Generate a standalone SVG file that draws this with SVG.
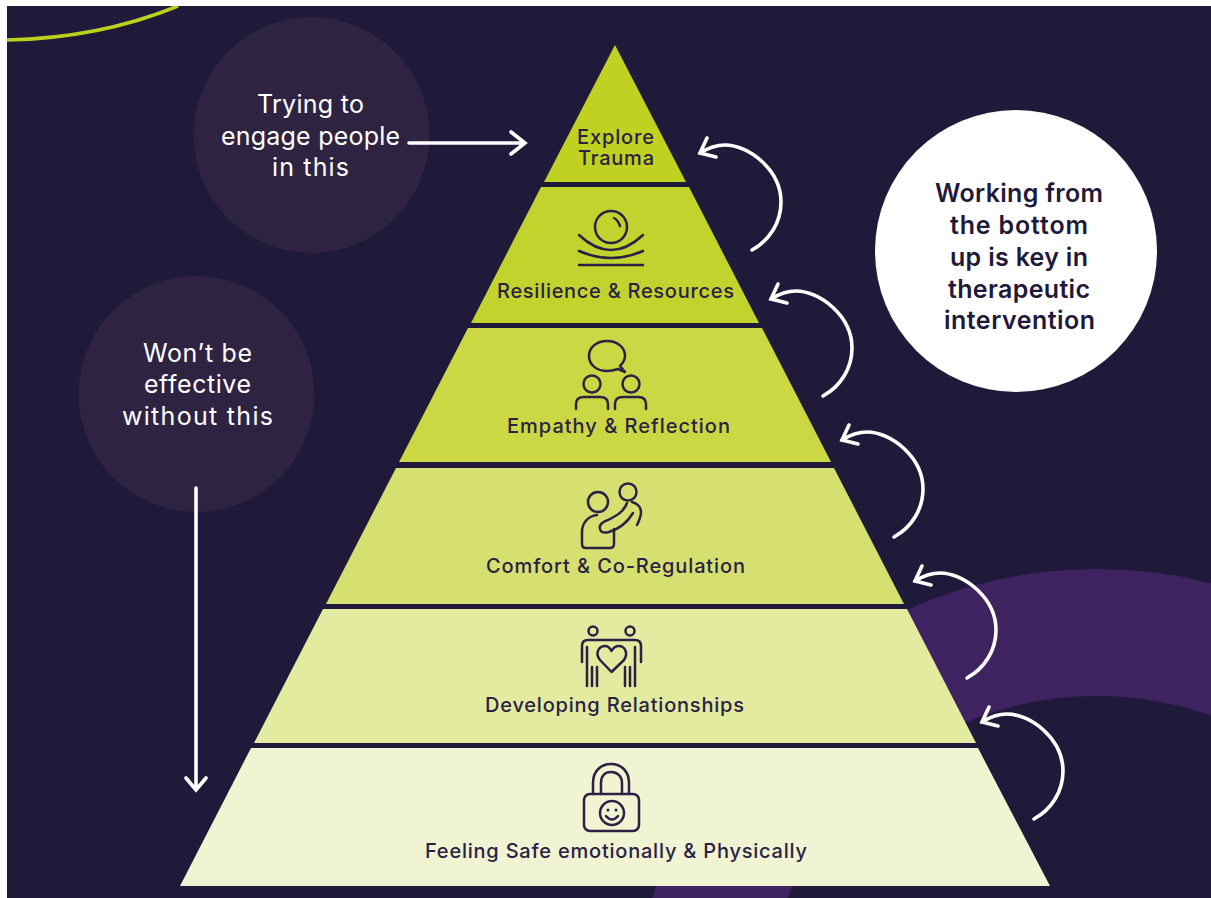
<svg xmlns="http://www.w3.org/2000/svg" xmlns:xlink="http://www.w3.org/1999/xlink" width="1211" height="898" viewBox="0 0 1211 898">
<style>
text{font-family:"Inter","Liberation Sans",sans-serif}
.lbl{font-size:20px;fill:#2a2145;font-weight:500;text-anchor:middle}
.cw{font-size:25px;fill:#fff;text-anchor:middle}
.cb{font-size:25px;fill:#1f1a3a;font-weight:600;text-anchor:middle}
.ic{fill:none;stroke:#2a2145;stroke-width:2.500;stroke-linecap:round;stroke-linejoin:round}
.ar{fill:none;stroke:#fff;stroke-width:3.600;stroke-linecap:round;stroke-linejoin:miter}
</style>
<defs>
<clipPath id="bg"><rect x="7" y="6" width="1204" height="892"/></clipPath>
<g id="curl" class="ar"><path d="M0 0C18 -10 29 -28 29 -48C29 -80 -3 -105 -27 -105C-36 -105 -44 -102 -52 -97"/><path d="M-45 -112L-52 -97L-36 -93"/></g>
</defs>
<rect width="1211" height="898" fill="#fff"/>
<g id="background" clip-path="url(#bg)">
<rect x="7" y="6" width="1204" height="892" fill="#1f1a3a"/>
<circle cx="1097" cy="1034" r="401.500" fill="none" stroke="#3f2260" stroke-width="127"/>
<path d="M7 40Q100 38 178 6" fill="none" stroke="#bdd01e" stroke-width="3.600"/>
<polygon points="615,45 1050,886 180,886" fill="#1f1a3a"/>
</g>
<g id="callout-top"><circle cx="311.500" cy="135" r="118" fill="#2f2342"/>
<text class="cw" x="310.500" y="113" textLength="107">Trying to</text><text class="cw" x="310.500" y="145" textLength="179">engage people</text><text class="cw" x="310.500" y="176" textLength="77">in this</text></g>
<g id="callout-left"><circle cx="196.500" cy="394" r="118" fill="#2f2342"/>
<text class="cw" x="197.500" y="362" textLength="109">Won’t be</text><text class="cw" x="197.500" y="393" textLength="107">effective</text><text class="cw" x="197.500" y="425" textLength="151">without this</text></g>
<g id="callout-right"><circle cx="1016" cy="251" r="141" fill="#fff"/>
<text class="cb" x="1019" y="202" textLength="168">Working from</text><text class="cb" x="1019" y="234" textLength="138">the bottom</text><text class="cb" x="1019" y="266" textLength="138">up is key in</text><text class="cb" x="1019" y="298" textLength="142">therapeutic</text><text class="cb" x="1019.500" y="329" textLength="151">intervention</text></g>
<g id="tier-explore"><polygon points="615,45 686,182 544,182" fill="#c0d122"/>
<text class="lbl" x="615.500" y="144" textLength="77">Explore</text><text class="lbl" x="616" y="165" textLength="76">Trauma</text></g>
<g id="tier-resilience"><polygon points="541,187 689,187 759,323 471,323" fill="#c2d32d"/>
<g class="ic"><circle cx="611" cy="227" r="16"/><path d="M614 218Q618 220 620 226M579 235Q611 265 643 235M579 251Q611 265 643 251M579 265H643"/></g>
<text class="lbl" x="615.500" y="298" textLength="237">Resilience &amp; Resources</text></g>
<g id="tier-empathy"><polygon points="468,328 762,328 831,462 399,462" fill="#cbd844"/>
<g class="ic"><path d="M625 372L620 366C624 362 625 359 625 356C625 347 617 341 607 341C597 341 589 347 589 356C589 365 597 371 607 371C611 371 615 370 618 369Z"/><circle cx="592" cy="384" r="8.500"/><circle cx="631" cy="384" r="8.500"/><path d="M576 409V404Q576 397 584 397H600Q608 397 608 404V409M615 409V404Q615 397 623 397H638Q646 397 646 404V409"/></g>
<text class="lbl" x="618.500" y="433" textLength="223">Empathy &amp; Reflection</text></g>
<g id="tier-comfort"><polygon points="396,468 834,468 904,604 326,604" fill="#d6e070"/>
<g class="ic"><circle cx="598" cy="502" r="10"/><circle cx="628" cy="492" r="8.500"/><path d="M597 515C588 516 582 523 582 532V544Q582 548 586 548H610Q614 548 614 544V529"/><path d="M627 503C624 511 618 515 608 520C602 522 599 525 600 529C601 533 605 533 609 532C619 529 627 523 633 513"/><path d="M632 502C637 503 641 507 641 512C641 516 639 521 637 525"/></g>
<text class="lbl" x="615.500" y="573" textLength="259">Comfort &amp; Co-Regulation</text></g>
<g id="tier-relationships"><polygon points="323,609 907,609 976,743 254,743" fill="#e3eba0"/>
<g class="ic"><circle cx="593" cy="631" r="4.500"/><circle cx="630" cy="631" r="4.500"/><path d="M582 662V646Q582 640 588 640H635Q641 640 641 646V662M587 647V686M592 667V686M597 667V686M635 647V686M630 667V686M625 667V686"/><path d="M611.500 672L600 660C594 652 600 646 605 646C608 646 610 648 611.500 651C613 648 615 646 619 646C624 646 629 652 624 660Z"/></g>
<text class="lbl" x="614.500" y="712" textLength="259">Developing Relationships</text></g>
<g id="tier-safe"><polygon points="251,748 978,748 1050,886 180,886" fill="#f0f4d2"/>
<g class="ic"><rect x="584" y="794" width="55" height="37" rx="6"/><path d="M593 794V783C593 771 601 764 611 764C621 764 629 771 629 783V794M601 794V783C601 776 605 772 611 772C617 772 622 776 622 783V794"/><circle cx="612" cy="813" r="12"/><path d="M606 816Q612 823 618 816"/><path d="M608 810h.01M616 810h.01" stroke-width="3"/></g>
<text class="lbl" x="616" y="858" textLength="382">Feeling Safe emotionally &amp; Physically</text></g>
<g id="connectors">
<path class="ar" d="M409 143H525M511 132L525 143L511 154"/>
<path class="ar" d="M196 488V790M186 778L196 790L206 778"/>
<use xlink:href="#curl" href="#curl" transform="translate(752 250)"/>
<use xlink:href="#curl" href="#curl" transform="translate(823 396)"/>
<use xlink:href="#curl" href="#curl" transform="translate(894 537)"/>
<use xlink:href="#curl" href="#curl" transform="translate(967 678)"/>
<use xlink:href="#curl" href="#curl" transform="translate(1034 819)"/>
</g>
</svg>
